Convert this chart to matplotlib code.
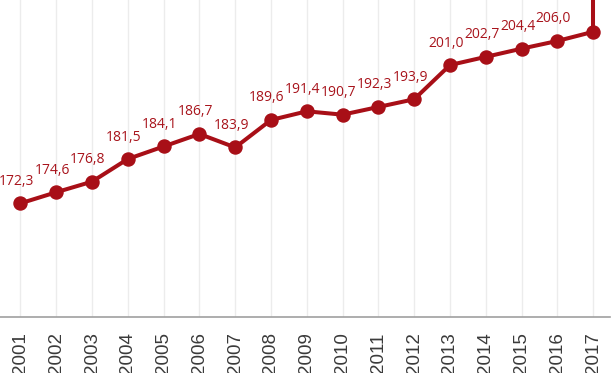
import matplotlib
matplotlib.use("Agg")
import matplotlib.pyplot as plt

years = list(range(2001, 2018))
values = [172.3, 174.6, 176.8, 181.5, 184.1, 186.7, 183.9, 189.6, 191.4,
          190.7, 192.3, 193.9, 201.0, 202.7, 204.4, 206.0, 207.9]
# the 2017 label sits above the crop, so only the first 16 are shown
labels = ["172,3", "174,6", "176,8", "181,5", "184,1", "186,7", "183,9",
          "189,6", "191,4", "190,7", "192,3", "193,9", "201,0", "202,7",
          "204,4", "206,0"]

RED = "#a80f17"
YTOP = 214.5

fig = plt.figure(figsize=(6.14, 3.73), dpi=100)
ax = fig.add_axes([0, 0.150, 0.9935, 0.850])

ax.plot(years, values, color=RED, lw=2.9, marker="o", ms=9.4,
        solid_capstyle="round", zorder=3)
# line runs off the top of the crop at the last year
ax.plot([years[-1], years[-1]], [values[-1], YTOP + 5], color=RED, lw=2.9,
        zorder=3)

for x, v, t in zip(years, values, labels):
    ax.annotate(t, (x, v), xytext=(-4, 22), textcoords="offset pixels",
                ha="center", va="center", fontsize=10, color="#a8141c",
                family="Open Sans")

ax.set_xlim(2000.43, 2017.47)
ax.set_ylim(148.7, YTOP)
ax.set_xticks(years)
ax.set_xticklabels([str(y) for y in years], rotation=90, fontsize=13.5,
                   color="#3a3a3a", family="Liberation Sans", va="top")
ax.tick_params(axis="x", length=0, pad=11)
ax.set_yticks([])
ax.grid(axis="x", color="#ececec", lw=1)
ax.set_axisbelow(True)
for s in ["top", "left", "right"]:
    ax.spines[s].set_visible(False)
ax.spines["bottom"].set_color("#a0a0a0")
ax.spines["bottom"].set_linewidth(1.2)

fig.savefig("out.png", dpi=100)
